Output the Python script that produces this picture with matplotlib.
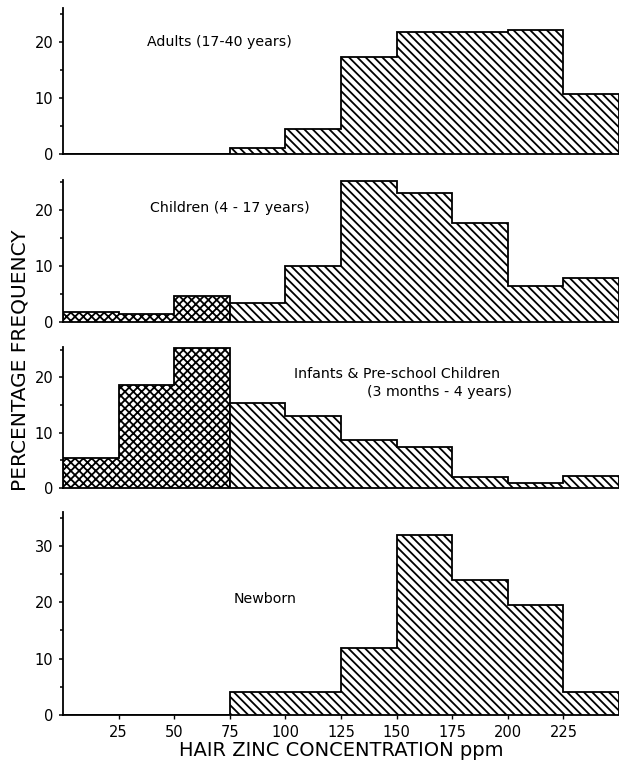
import matplotlib
matplotlib.use("Agg")
import matplotlib.pyplot as plt
from matplotlib.ticker import MultipleLocator

# ---- data (percentage frequency per 25 ppm bin) ----
bin_edges = [0, 25, 50, 75, 100, 125, 150, 175, 200, 225, 250]
adults   = [0, 0, 0, 1.0, 4.5, 17.3, 21.7, 21.8, 22.0, 10.6]
children = [1.7, 1.5, 4.7, 3.3, 10.0, 25.1, 23.0, 17.7, 6.4, 7.8]
infants  = [5.5, 18.7, 25.3, 15.3, 13.1, 8.6, 7.5, 2.0, 0.9, 2.1]
newborn  = [0, 0, 0, 4.1, 4.1, 11.8, 31.9, 23.9, 19.5, 4.1]
n_cross = 3  # first bins (0-75 ppm) drawn cross-hatched
x_ticks = [25, 50, 75, 100, 125, 150, 175, 200, 225]

panels = [
    dict(vals=adults, ylim=26.0, yt=[0, 10, 20],
         texts=[("Adults (17-40 years)", 37.7, 20.0)]),
    dict(vals=children, ylim=25.3, yt=[0, 10, 20],
         texts=[("Children (4 - 17 years)", 39.0, 20.4)]),
    dict(vals=infants, ylim=25.5, yt=[0, 10, 20],
         texts=[("Infants & Pre-school Children", 104.0, 20.7),
                ("(3 months - 4 years)", 136.5, 17.3)]),
    dict(vals=newborn, ylim=36.0, yt=[0, 10, 20, 30],
         texts=[("Newborn", 76.7, 20.5)]),
]

# axes boxes in figure pixels (top, bottom) of 764 px height
boxes = [(8, 154), (180, 322), (347, 488), (512, 715)]

plt.rcParams['hatch.linewidth'] = 1.3
plt.rcParams['font.family'] = 'DejaVu Sans'

W, H = 619, 764
fig = plt.figure(figsize=(W / 100, H / 100), dpi=100)
left = 63 / W

for p, (top, bot) in zip(panels, boxes):
    ax = fig.add_axes([left, 1 - bot / H, 1 - left, (bot - top) / H])
    v = p['vals']
    ax.stairs(v[:n_cross], bin_edges[:n_cross + 1], fill=True, baseline=0,
              facecolor='white', edgecolor='black', hatch='xxxx', linewidth=1.3)
    ax.stairs(v[n_cross:], bin_edges[n_cross:], fill=True, baseline=0,
              facecolor='white', edgecolor='black', hatch='\\\\\\\\', linewidth=1.3)
    ax.set_xlim(0, 250)
    ax.set_ylim(0, p['ylim'])
    for s in ('top', 'right'):
        ax.spines[s].set_visible(False)
    ax.spines['left'].set_linewidth(1.3)
    ax.spines['bottom'].set_linewidth(1.3)
    ax.set_yticks(p['yt'])
    ax.yaxis.set_minor_locator(MultipleLocator(5))
    ax.tick_params(axis='y', which='major', direction='out', length=3,
                   width=1.1, pad=4, labelsize=10.5)
    ax.tick_params(axis='y', which='minor', direction='out', length=2, width=1.1)
    ax.patch.set_alpha(0)
    if p is panels[-1]:
        ax.set_xticks(x_ticks)
        ax.set_xticklabels([str(t) for t in x_ticks])
        ax.tick_params(axis='x', direction='out', length=3, width=1.0,
                       pad=4, labelsize=10.5)
    else:
        ax.set_xticks([])
    for txt, tx, ty in p['texts']:
        ax.text(tx, ty, txt, ha='left', va='center', fontsize=10.2)

fig.text(0.551, 1 - 751 / H, "HAIR ZINC CONCENTRATION ppm", ha='center',
         va='center', fontsize=14)
fig.text(20 / W, 1 - 360 / H, "PERCENTAGE FREQUENCY", rotation=90,
         ha='center', va='center', fontsize=14.5)

fig.savefig("out.png", dpi=100)
